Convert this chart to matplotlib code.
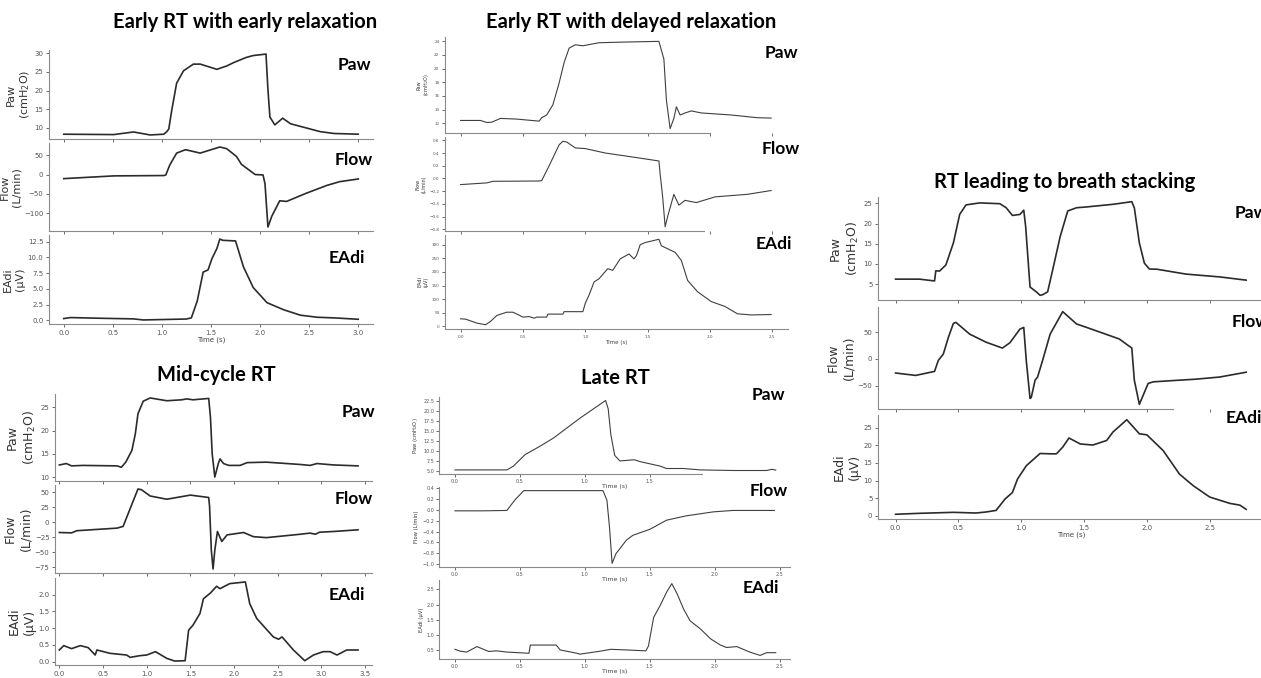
import matplotlib
matplotlib.use("Agg")
import matplotlib.pyplot as plt

# ---------------- data ----------------
# Early RT with early relaxation
g1_paw_t = [0.0, 0.51, 0.71, 0.88, 1.02, 1.05, 1.07, 1.10, 1.15, 1.22, 1.32, 1.39, 1.56, 1.66, 1.73, 1.86, 1.93, 2.03, 2.06, 2.08, 2.10, 2.15, 2.23, 2.31, 2.51, 2.61, 2.75, 3.0]
g1_paw_v = [8.3, 8.2, 8.9, 8.1, 8.3, 9.0, 9.7, 14.7, 22.0, 25.3, 27.1, 27.1, 25.7, 26.6, 27.5, 28.9, 29.4, 29.7, 29.8, 20.2, 12.9, 10.8, 12.6, 11.1, 9.7, 9.0, 8.5, 8.3]
g1_flow_t = [0.0, 0.51, 1.02, 1.04, 1.08, 1.15, 1.24, 1.39, 1.59, 1.66, 1.76, 1.81, 1.95, 2.03, 2.05, 2.08, 2.12, 2.20, 2.27, 2.47, 2.68, 2.81, 3.0]
g1_flow_v = [-10.6, -3.5, -2.6, -1.0, 24.7, 55.6, 64.4, 55.6, 71.4, 67.0, 46.7, 26.5, 0.0, -1.0, -24.0, -136.0, -107.6, -68.0, -69.7, -48.5, -28.2, -18.5, -11.5]
g1_eadi_t = [0.0, 0.07, 0.37, 0.71, 0.81, 1.25, 1.30, 1.36, 1.42, 1.47, 1.51, 1.56, 1.59, 1.62, 1.75, 1.83, 1.93, 2.07, 2.24, 2.41, 2.58, 2.75, 3.0]
g1_eadi_v = [0.27, 0.43, 0.32, 0.22, 0.05, 0.2, 0.38, 3.07, 7.65, 8.0, 9.8, 11.4, 12.9, 12.7, 12.6, 8.5, 5.2, 2.8, 1.67, 0.81, 0.48, 0.38, 0.16]

# Early RT with delayed relaxation
g2_paw_t = [0.0, 0.16, 0.21, 0.25, 0.32, 0.45, 0.63, 0.65, 0.69, 0.74, 0.79, 0.83, 0.87, 0.92, 0.98, 1.11, 1.32, 1.59, 1.60, 1.63, 1.65, 1.68, 1.71, 1.73, 1.76, 1.80, 1.85, 1.93, 2.17, 2.38, 2.49]
g2_paw_v = [12.4, 12.4, 12.1, 12.15, 12.7, 12.6, 12.3, 12.8, 13.2, 14.7, 17.9, 20.9, 23.0, 23.5, 23.35, 23.8, 23.9, 24.0, 23.35, 21.4, 15.4, 11.2, 12.7, 14.4, 13.2, 13.5, 13.8, 13.5, 13.2, 12.8, 12.75]
g2_flow_t = [0.0, 0.21, 0.26, 0.63, 0.65, 0.71, 0.79, 0.82, 0.85, 0.92, 1.0, 1.16, 1.37, 1.59, 1.60, 1.62, 1.64, 1.66, 1.71, 1.75, 1.80, 1.89, 2.04, 2.30, 2.49]
g2_flow_v = [-0.097, -0.07, -0.045, -0.04, -0.035, 0.2, 0.53, 0.585, 0.574, 0.48, 0.47, 0.40, 0.34, 0.275, 0.07, -0.29, -0.76, -0.6, -0.25, -0.42, -0.345, -0.38, -0.29, -0.25, -0.19]
g2_eadi_t = [0.0, 0.04, 0.13, 0.20, 0.24, 0.29, 0.37, 0.42, 0.50, 0.55, 0.59, 0.61, 0.69, 0.70, 0.82, 0.83, 0.98, 1.0, 1.03, 1.07, 1.11, 1.18, 1.22, 1.28, 1.35, 1.39, 1.41, 1.44, 1.48, 1.59, 1.61, 1.72, 1.77, 1.82, 1.90, 2.01, 2.12, 2.22, 2.33, 2.49]
g2_eadi_v = [27.8, 26.6, 12, 6, 18, 40, 52, 52, 34, 36, 30, 34, 34, 45, 45, 54, 54, 85, 115, 163, 175, 212, 206, 248, 266, 248, 260, 300, 308, 320, 296, 272, 242, 169, 127, 91, 73, 46, 42, 43.5]

# RT leading to breath stacking
g3_paw_t = [0.0, 0.19, 0.31, 0.32, 0.35, 0.40, 0.46, 0.51, 0.56, 0.67, 0.83, 0.88, 0.93, 0.99, 1.02, 1.035, 1.07, 1.12, 1.15, 1.17, 1.21, 1.25, 1.31, 1.37, 1.44, 1.52, 1.73, 1.88, 1.90, 1.94, 1.98, 2.02, 2.08, 2.31, 2.58, 2.79]
g3_paw_v = [6.25, 6.25, 5.8, 8.3, 8.25, 9.75, 15.2, 22.25, 24.6, 25.1, 24.9, 23.9, 22.0, 22.25, 23.3, 19.3, 4.3, 3.1, 2.25, 2.4, 3.1, 8.5, 16.8, 23.1, 23.9, 24.1, 24.75, 25.4, 23.9, 15.2, 10.2, 8.75, 8.7, 7.5, 6.8, 6.0]
g3_flow_t = [0.0, 0.16, 0.31, 0.34, 0.38, 0.42, 0.46, 0.48, 0.59, 0.72, 0.85, 0.91, 0.99, 1.02, 1.04, 1.07, 1.08, 1.11, 1.13, 1.17, 1.23, 1.33, 1.44, 1.52, 1.78, 1.88, 1.90, 1.94, 2.01, 2.05, 2.18, 2.39, 2.58, 2.79]
g3_flow_v = [-26.5, -31, -23.5, -3, 9, 40, 66, 68, 46, 31, 20, 30, 55.5, 58.6, -3, -74, -72, -40, -34, -3, 46, 88, 65, 58.6, 37, 20, -40, -85, -46, -43, -41, -38, -34, -25]
g3_eadi_t = [0.0, 0.19, 0.46, 0.64, 0.72, 0.80, 0.87, 0.93, 0.97, 1.04, 1.15, 1.23, 1.28, 1.33, 1.38, 1.47, 1.57, 1.68, 1.73, 1.84, 1.94, 2.0, 2.13, 2.26, 2.37, 2.50, 2.66, 2.74, 2.79]
g3_eadi_v = [0.4, 0.67, 0.95, 0.76, 1.05, 1.5, 4.7, 6.6, 10.4, 14.2, 17.7, 17.6, 17.6, 19.5, 22.1, 20.4, 20.1, 21.4, 23.8, 27.3, 23.3, 23.0, 18.5, 11.8, 8.5, 5.3, 3.5, 3.0, 1.8]

# Mid-cycle RT
g4_paw_t = [0.0, 0.08, 0.14, 0.27, 0.66, 0.71, 0.76, 0.83, 0.87, 0.90, 0.96, 1.04, 1.23, 1.40, 1.46, 1.53, 1.71, 1.73, 1.75, 1.78, 1.82, 1.84, 1.88, 1.94, 2.07, 2.15, 2.37, 2.76, 2.87, 2.95, 3.14, 3.42]
g4_paw_v = [12.6, 12.9, 12.4, 12.5, 12.4, 12.1, 13.2, 15.7, 19.3, 23.6, 26.3, 27.0, 26.4, 26.6, 26.8, 26.6, 26.9, 22.9, 15.0, 10.0, 12.9, 13.9, 12.9, 12.5, 12.5, 13.1, 13.2, 12.7, 12.5, 12.9, 12.6, 12.4]
g4_flow_t = [0.0, 0.14, 0.20, 0.66, 0.73, 0.83, 0.90, 0.94, 1.04, 1.23, 1.50, 1.71, 1.72, 1.74, 1.76, 1.78, 1.81, 1.86, 1.92, 2.11, 2.22, 2.37, 2.76, 2.87, 2.93, 2.98, 3.14, 3.42]
g4_flow_v = [-17, -17.6, -14, -9.7, -6.8, 30, 55.7, 54.5, 44, 38.6, 45.5, 41.5, 27, -46.6, -78, -46.6, -15.3, -32, -21, -17, -23.9, -25.6, -19.9, -18, -19.9, -16.5, -15.3, -12.5]
g4_eadi_t = [0.0, 0.05, 0.14, 0.24, 0.33, 0.41, 0.43, 0.58, 0.77, 0.81, 0.92, 1.0, 1.10, 1.23, 1.32, 1.44, 1.48, 1.53, 1.61, 1.65, 1.73, 1.80, 1.84, 1.95, 2.13, 2.18, 2.26, 2.45, 2.51, 2.55, 2.68, 2.81, 2.91, 3.02, 3.10, 3.18, 3.29, 3.42]
g4_eadi_v = [0.35, 0.48, 0.39, 0.48, 0.42, 0.2, 0.35, 0.25, 0.2, 0.13, 0.18, 0.2, 0.3, 0.1, 0.02, 0.03, 0.94, 1.09, 1.44, 1.88, 2.05, 2.25, 2.18, 2.33, 2.38, 1.73, 1.29, 0.74, 0.67, 0.74, 0.35, 0.03, 0.2, 0.3, 0.3, 0.2, 0.35, 0.35]

# Late RT
g5_paw_t = [0.0, 0.35, 0.40, 0.45, 0.54, 0.66, 0.76, 0.96, 1.16, 1.18, 1.20, 1.23, 1.27, 1.38, 1.43, 1.58, 1.63, 1.76, 1.89, 2.15, 2.40, 2.44, 2.47]
g5_paw_v = [5.25, 5.25, 5.25, 6.2, 9.1, 11.3, 13.3, 18.2, 22.7, 20.6, 14.2, 8.9, 7.5, 7.8, 7.3, 6.2, 5.6, 5.6, 5.25, 5.1, 5.1, 5.4, 5.2]
g5_flow_t = [0.0, 0.22, 0.40, 0.46, 0.53, 0.86, 1.14, 1.17, 1.19, 1.21, 1.24, 1.32, 1.37, 1.50, 1.63, 1.78, 1.99, 2.14, 2.46]
g5_flow_v = [-0.017, -0.017, -0.01, 0.18, 0.357, 0.357, 0.357, 0.18, -0.32, -0.99, -0.81, -0.56, -0.47, -0.36, -0.19, -0.11, -0.036, -0.01, -0.01]
g5_eadi_t = [0.0, 0.04, 0.09, 0.13, 0.17, 0.22, 0.26, 0.32, 0.40, 0.57, 0.58, 0.78, 0.81, 0.94, 0.96, 1.12, 1.20, 1.32, 1.47, 1.49, 1.53, 1.58, 1.63, 1.67, 1.71, 1.76, 1.81, 1.89, 1.97, 2.04, 2.09, 2.17, 2.27, 2.35, 2.40, 2.47]
g5_eadi_v = [0.53, 0.47, 0.44, 0.53, 0.62, 0.53, 0.46, 0.48, 0.44, 0.4, 0.67, 0.67, 0.51, 0.4, 0.37, 0.47, 0.53, 0.51, 0.48, 0.64, 1.58, 1.97, 2.41, 2.69, 2.36, 1.86, 1.47, 1.2, 0.87, 0.68, 0.59, 0.62, 0.44, 0.33, 0.42, 0.42]

titles = ["Early RT with early relaxation", "Early RT with delayed relaxation",
          "RT leading to breath stacking", "Mid-cycle RT", "Late RT"]
signal_names = ["Paw", "Flow", "EAdi"]

# ---------------- layout helpers ----------------
W, H = 1261, 678
fig = plt.figure(figsize=(W / 100, H / 100), dpi=100)
fig.patch.set_facecolor("white")

BOLD = dict(family=["Lato", "DejaVu Sans"], fontweight="bold", color="black")


def add_ax(l, t, r, b):
    ax = fig.add_axes([l / W, 1 - b / H, (r - l) / W, (b - t) / H])
    ax.patch.set_alpha(0)  # keep neighbouring "Time (s)" labels visible
    return ax


def ftext(x, y, s, size, ha="center"):
    fig.text(x / W, 1 - y / H, s, fontsize=size, ha=ha, va="center", **BOLD)


def style(ax, fs, lab_fs, ylabel, yticks, xticks, xlim, xlabels=False, spine_end=None,
          xlab_fs=None, pad=1.5, xpad=1):
    for s in ("top", "right"):
        ax.spines[s].set_visible(False)
    for s in ("left", "bottom"):
        ax.spines[s].set_color("#8a8a8a")
        ax.spines[s].set_linewidth(0.8)
    ax.set_yticks(yticks)
    ax.set_xticks(xticks)
    ax.set_xlim(*xlim)
    ax.tick_params(labelsize=fs, colors="#555555", length=2.5, width=0.6, pad=pad)
    if not xlabels:
        ax.tick_params(axis="x", labelbottom=False)
    else:
        ax.set_xlabel("Time (s)", fontsize=xlab_fs or fs, color="#444444", labelpad=xpad)
    ax.set_ylabel(ylabel, fontsize=lab_fs, color="#333333", labelpad=2)
    if spine_end is not None:
        ax.spines["bottom"].set_bounds(xlim[0], spine_end)


TITLE_FS = 14.5
LABEL_FS = 12.5

# ---------- Group 1: Early RT with early relaxation ----------
c1, lw1 = "#2b2b2b", 1.2
ax = add_ax(49, 50, 373, 139)
ax.plot(g1_paw_t, g1_paw_v, color=c1, lw=lw1)
style(ax, 5, 8, "Paw\n(cmH$_2$O)", [10, 15, 20, 25, 30], [0, 0.5, 1, 1.5, 2, 2.5, 3], (-0.15, 3.15))
ax = add_ax(49, 143, 373, 231)
ax.plot(g1_flow_t, g1_flow_v, color=c1, lw=lw1)
style(ax, 5, 8, "Flow\n(L/min)", [-100, -50, 0, 50], [0, 0.5, 1, 1.5, 2, 2.5, 3], (-0.15, 3.15))
ax = add_ax(49, 235, 373, 324)
ax.plot(g1_eadi_t, g1_eadi_v, color=c1, lw=lw1)
style(ax, 5, 8, "EAdi\n(µV)", [0, 2.5, 5, 7.5, 10, 12.5], [0, 0.5, 1, 1.5, 2, 2.5, 3], (-0.15, 3.15), xlabels=True)
ftext(245, 22, titles[0], TITLE_FS)
ftext(354, 65, signal_names[0], LABEL_FS)
ftext(354, 160, signal_names[1], LABEL_FS)
ftext(347, 258, signal_names[2], LABEL_FS)

# ---------- Group 2: Early RT with delayed relaxation ----------
c2, lw2 = "#3f3f3f", 0.8
xt2 = [0, 0.5, 1, 1.5, 2, 2.5]
xl2 = (-0.125, 2.625)
ax = add_ax(445, 37, 788, 133)
ax.plot(g2_paw_t, g2_paw_v, color=c2, lw=lw2)
style(ax, 3, 3.5, "Paw\n(cmH$_2$O)", [12, 14, 16, 18, 20, 22, 24], xt2, xl2, spine_end=2.0)
ax = add_ax(445, 137, 788, 231)
ax.plot(g2_flow_t, g2_flow_v, color=c2, lw=lw2)
style(ax, 3, 3.5, "Flow\n(L/min)", [-0.8, -0.6, -0.4, -0.2, 0.0, 0.2, 0.4, 0.6], xt2, xl2, spine_end=1.95)
ax = add_ax(445, 235, 788, 329)
ax.plot(g2_eadi_t, g2_eadi_v, color=c2, lw=lw2)
style(ax, 3, 3.5, "EAdi\n(µV)", [0, 50, 100, 150, 200, 250, 300], xt2, xl2, xlabels=True, xlab_fs=4)
ftext(631, 22, titles[1], TITLE_FS)
ftext(781, 53, signal_names[0], LABEL_FS)
ftext(781, 149, signal_names[1], LABEL_FS)
ftext(774, 244, signal_names[2], LABEL_FS)

# ---------- Group 3: RT leading to breath stacking ----------
xt3 = [0, 0.5, 1, 1.5, 2, 2.5]
xl3 = (-0.14, 2.94)
ax = add_ax(878, 197, 1265, 300)
ax.plot(g3_paw_t, g3_paw_v, color=c1, lw=lw1)
style(ax, 5, 9, "Paw\n(cmH$_2$O)", [5, 10, 15, 20, 25], xt3, xl3)
ax = add_ax(878, 307, 1265, 409)
ax.plot(g3_flow_t, g3_flow_v, color=c1, lw=lw1)
style(ax, 5, 9, "Flow\n(L/min)", [-50, 0, 50], xt3, xl3, spine_end=2.21)
ax = add_ax(878, 415, 1265, 519)
ax.plot(g3_eadi_t, g3_eadi_v, color=c1, lw=lw1)
style(ax, 5, 9, "EAdi\n(µV)", [0, 5, 10, 15, 20, 25], xt3, xl3, xlabels=True)
ftext(1065, 182, titles[2], TITLE_FS)
# the reference crops these three labels at the right edge
ftext(1235, 213, signal_names[0], LABEL_FS, ha="left")
ftext(1232, 322, signal_names[1], LABEL_FS, ha="left")
ftext(1226, 418, signal_names[2], LABEL_FS, ha="left")

# ---------- Group 4: Mid-cycle RT ----------
xt4 = [0, 0.5, 1, 1.5, 2, 2.5, 3, 3.5]
xl4 = (-0.05, 3.58)
ax = add_ax(55, 394, 372, 481)
ax.plot(g4_paw_t, g4_paw_v, color=c1, lw=lw1)
style(ax, 5, 9, "Paw\n(cmH$_2$O)", [10, 15, 20, 25], xt4, xl4)
ax = add_ax(55, 485, 372, 573)
ax.plot(g4_flow_t, g4_flow_v, color=c1, lw=lw1)
style(ax, 5, 9, "Flow\n(L/min)", [-75, -50, -25, 0, 25, 50], xt4, xl4)
ax = add_ax(55, 578, 372, 665)
ax.plot(g4_eadi_t, g4_eadi_v, color=c1, lw=lw1)
style(ax, 5, 9, "EAdi\n(µV)", [0, 0.5, 1.0, 1.5, 2.0], xt4, xl4, xlabels=True)
ftext(216, 375, titles[3], TITLE_FS)
ftext(358, 412, signal_names[0], LABEL_FS)
ftext(354, 499, signal_names[1], LABEL_FS)
ftext(347, 595, signal_names[2], LABEL_FS)

# ---------- Group 5: Late RT ----------
xt5 = [0, 0.5, 1, 1.5, 2, 2.5]
xl5 = (-0.123, 2.58)
ax = add_ax(439, 397, 790, 474)
ax.plot(g5_paw_t, g5_paw_v, color=c2, lw=lw2)
style(ax, 3.5, 3.8, "Paw (cmH$_2$O)", [5, 7.5, 10, 12.5, 15, 17.5, 20, 22.5], [0, 0.5, 1, 1.5], xl5,
      xlabels=True, spine_end=1.9, xlab_fs=4.5, pad=1, xpad=0.3)
ax = add_ax(439, 487, 790, 567)
ax.plot(g5_flow_t, g5_flow_v, color=c2, lw=lw2)
style(ax, 3.5, 3.8, "Flow (L/min)", [-1.0, -0.8, -0.6, -0.4, -0.2, 0.0, 0.2, 0.4], xt5, xl5,
      xlabels=True, xlab_fs=4.5, pad=1, xpad=0.3)
ax = add_ax(439, 580, 790, 659)
ax.plot(g5_eadi_t, g5_eadi_v, color=c2, lw=lw2)
style(ax, 3.5, 3.8, "EAdi (µV)", [0.5, 1.0, 1.5, 2.0, 2.5], xt5, xl5, xlabels=True, xlab_fs=4.5,
      pad=1, xpad=0.3)
ftext(615, 378, titles[4], TITLE_FS)
ftext(768, 395, signal_names[0], LABEL_FS)
ftext(769, 491, signal_names[1], LABEL_FS)
ftext(761, 588, signal_names[2], LABEL_FS)

fig.savefig("out.png", dpi=100, facecolor="white")
